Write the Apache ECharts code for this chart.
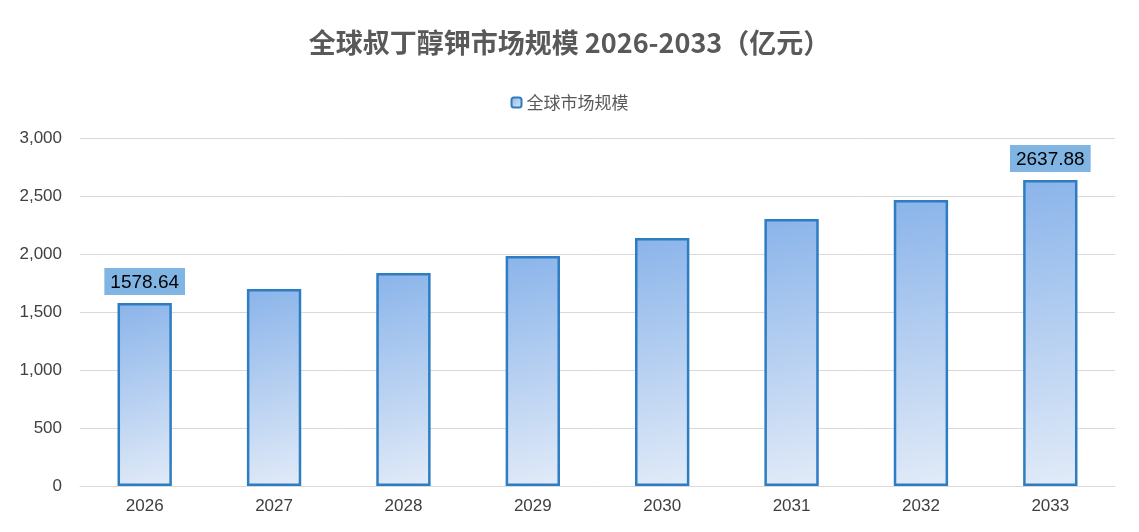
<!DOCTYPE html>
<html><head><meta charset="utf-8">
<script src="https://cdn.jsdelivr.net/npm/echarts@6/dist/echarts.min.js"></script>
<style>html,body{margin:0;padding:0;background:#fff}#c{width:1139px;height:532px}</style>
</head><body><div id="c"></div>
<script>
const categories = ['2026','2027','2028','2029','2030','2031','2032','2033'];
const values = [1578.64, 1698, 1836, 1983, 2138, 2302, 2466, 2637.88];
const yTicks = [0, 500, 1000, 1500, 2000, 2500, 3000];
const labeled = [0, 7];

const chart = echarts.init(document.getElementById('c'));
chart.setOption({
  animation: false,
  title: {text: '全球叔丁醇钾市场规模 2026-2033（亿元）', left: 'center', top: 24,
    textStyle: {fontSize: 27, fontWeight: 'bold', color: '#595959', fontFamily: 'Noto Sans CJK SC'}},
  legend: {top: 89, left: 'center', itemWidth: 10, itemHeight: 10, itemGap: 4,
    textStyle: {fontSize: 17, color: '#595959', fontFamily: 'Noto Sans CJK SC'}},
  grid: {left: 80, right: 24, top: 138, bottom: 46},
  xAxis: {type: 'category', data: categories,
    axisLine: {lineStyle: {color: '#d9d9d9'}}, axisTick: {show: false},
    axisLabel: {fontSize: 17, color: '#404040', margin: 12, fontFamily: 'Liberation Sans'}},
  yAxis: {type: 'value', min: 0, max: 3000, interval: 500,
    axisLine: {show: false}, axisTick: {show: false},
    splitLine: {lineStyle: {color: '#d9d9d9'}},
    axisLabel: {fontSize: 17, color: '#404040', margin: 18, fontFamily: 'Liberation Sans',
      formatter: v => v.toLocaleString('en-US')}},
  series: [{
    name: '全球市场规模', type: 'bar', barWidth: '42%',
    data: values.map((v, i) => ({value: v, label: {show: labeled.includes(i)}})),
    itemStyle: {
      color: new echarts.graphic.LinearGradient(0, 0, 1, 1, [
        {offset: 0, color: '#8ab4ea'}, {offset: 1, color: '#e2ebf8'}]),
      borderColor: '#2e7dc2', borderWidth: 2.5},
    label: {position: 'top', distance: 8, fontSize: 19, color: '#000',
      backgroundColor: '#80b4e2', padding: [5, 6, 3, 6], fontFamily: 'Liberation Sans',
      formatter: p => p.value.toFixed(2)}
  }]
});
</script></body></html>
